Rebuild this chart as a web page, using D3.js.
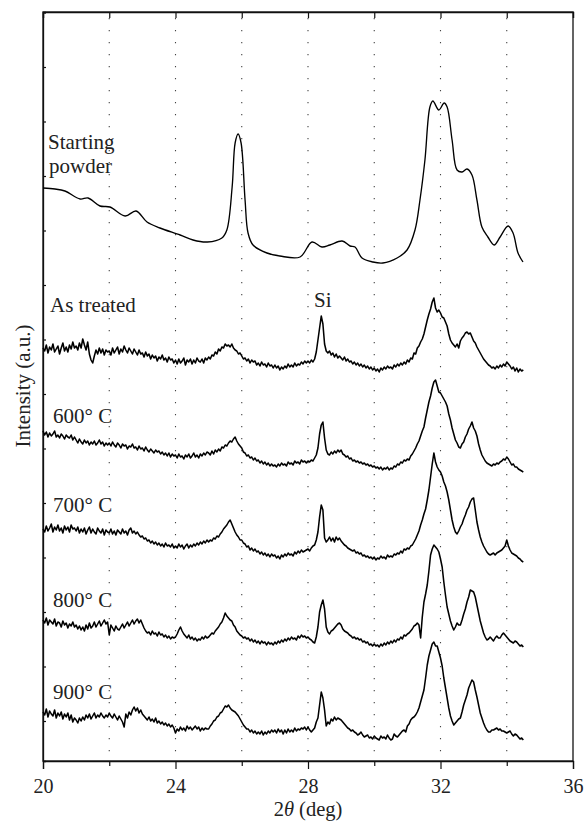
<!DOCTYPE html>
<html><head><meta charset="utf-8">
<script src="https://cdn.jsdelivr.net/npm/d3@7"></script>
<style>
html,body{margin:0;padding:0;background:#fff;}
text{font-family:Liberation Serif, serif;}
</style></head>
<body>
<svg id="chart" width="584" height="824"></svg>
<script>
// ---- data ----
const xTickLabels = [20, 24, 28, 32, 36];
const xMinorTicks = [22, 26, 30, 34];
const gridTheta = [22, 24, 26, 28, 30, 32, 34];
const seriesLabels = ["Starting powder", "As treated", "600° C", "700° C", "800° C", "900° C"];
const seriesOffsets = [498, 389, 289, 199, 114, 21];
const thetaStart = 20.0, thetaStep = 0.05;

const powderTheta = [20.0,20.36,20.66,21.12,21.36,21.72,22.02,22.48,22.81,23.14,23.53,24.14,24.53,24.96,25.40,25.55,25.71,25.80,25.89,25.98,26.10,26.19,26.34,26.76,27.15,27.76,28.12,28.42,28.66,29.03,29.27,29.42,29.63,29.96,30.26,30.69,30.99,31.23,31.38,31.53,31.68,31.77,31.95,32.11,32.20,32.35,32.50,32.65,32.80,32.95,33.10,33.25,33.43,33.62,33.80,34.04,34.19,34.34,34.49];
const powderIntensity = [75,74,72,64,65,57,56,47,52,41,35,28,23,21,25,33,76,120,129,120,63,30,18,10,7,6,21,16,18,22,17,16,5,1,0,5,13,33,63,103,156,162,153,160,156,123,93,91,94,88,63,36,26,18,26,37,30,10,1];

// noisy patterns, one value every 0.05 deg from 20.0 to 34.5
const asTreated = [
24,21,27,19,25,22,28,20,23,26,18,24,29,21,25,20,27,23,30,24,
26,22,29,24,33,27,22,30,18,12,9,16,22,18,24,19,23,17,22,20,
21,17,24,19,22,25,18,23,20,26,22,19,24,21,18,23,20,17,22,18,
19,15,20,16,18,13,17,14,16,11,15,13,17,12,14,10,15,12,13,9,
12,8,13,9,11,14,7,12,10,13,8,12,9,14,11,10,13,9,14,12,
15,13,17,16,20,18,23,21,25,24,28,26,27,25,28,24,22,21,18,19,
16,13,14,11,13,9,12,10,11,7,9,6,10,7,8,5,9,6,7,4,
7,4,6,2,5,3,6,4,8,5,7,5,9,6,8,7,10,8,11,9,
11,9,12,10,13,20,32,44,56,48,28,21,19,21,17,19,15,18,14,16,
14,12,15,11,13,10,11,8,10,7,9,6,8,5,7,4,6,3,5,2,
4,1,3,0,4,2,5,3,6,4,5,3,7,5,8,6,9,7,10,8,
12,10,14,13,19,18,24,26,30,33,38,45,52,58,63,70,74,64,60,62,
59,55,54,50,46,38,32,29,27,25,28,24,31,34,36,39,40,38,39,35,
31,29,25,22,19,16,13,11,9,7,6,4,5,3,6,4,7,5,8,6,
10,8,6,3,5,1,4,0,3,1,2];

const t600 = [
41,37,40,35,39,36,38,41,35,37,34,38,36,33,37,35,34,37,32,35,
32,29,33,30,28,32,29,31,27,30,28,31,27,29,32,28,30,26,29,27,
29,26,30,27,25,29,27,24,28,26,27,23,26,25,28,24,25,22,26,23,
24,21,25,22,20,23,21,19,22,20,21,18,20,17,19,16,19,15,18,16,
17,14,18,15,16,13,17,15,18,14,16,19,15,17,14,18,16,19,17,20,
19,17,21,18,22,20,23,21,25,24,27,26,29,31,30,33,35,31,28,26,
24,20,19,16,17,14,15,12,14,11,12,9,11,8,10,7,9,6,8,6,
7,5,8,6,9,7,8,6,10,8,9,7,11,9,10,8,12,10,11,9,
11,10,12,11,14,17,24,38,47,50,34,22,18,17,20,18,21,19,22,20,
22,18,17,15,16,13,14,11,12,10,11,9,10,8,9,7,8,6,7,5,
6,4,5,3,5,2,4,3,5,2,4,3,6,5,8,7,10,9,12,11,
13,12,16,18,21,24,28,31,36,41,45,54,62,70,76,84,90,92,86,80,
79,76,73,70,66,58,52,44,38,32,29,25,24,28,30,35,38,43,46,50,
44,41,36,28,22,17,14,11,9,8,7,6,8,7,9,8,10,11,13,12,
15,13,10,7,8,5,5,3,2,1,0];

const t700 = [
33,30,36,31,34,38,30,35,32,37,31,34,29,36,32,35,30,37,33,34,
31,35,29,33,30,34,28,32,35,29,33,30,28,34,31,29,33,27,32,30,
29,33,28,31,27,32,30,28,33,29,31,27,32,34,29,31,28,30,27,25,
26,23,24,21,22,19,21,18,20,17,19,16,18,15,19,16,17,15,18,14,
16,14,18,15,17,13,16,18,14,17,15,18,16,19,17,20,18,21,19,22,
20,22,21,24,23,26,25,28,30,33,35,37,40,42,38,34,30,27,25,22,
22,19,18,15,16,12,14,11,13,10,11,8,10,7,9,6,8,5,8,6,
7,4,6,3,7,5,8,6,9,7,8,6,10,8,11,9,12,10,11,12,
13,11,14,16,17,22,30,45,57,52,24,20,22,25,21,24,20,25,22,24,
21,19,17,16,14,13,12,11,12,9,10,8,9,6,7,5,6,4,5,3,
5,2,4,3,6,4,5,3,7,5,6,5,8,7,9,8,11,9,13,12,
14,13,16,17,20,23,27,31,37,42,48,53,62,72,85,98,109,100,95,92,
90,86,80,76,70,62,52,42,35,30,28,31,35,38,43,47,52,55,60,63,
64,52,40,32,25,20,16,13,10,8,7,8,9,7,9,10,11,12,14,16,
22,16,12,9,8,7,6,4,3,1,0];

const t800 = [
27,24,29,22,27,25,23,28,21,25,24,20,26,22,24,19,23,21,25,20,
22,18,21,17,20,16,22,18,24,19,21,25,20,23,26,21,24,27,23,25,
12,22,19,16,21,18,17,20,23,19,22,25,21,24,27,23,26,28,24,27,
23,19,16,14,15,12,16,13,14,11,15,12,13,10,12,9,11,8,10,9,
10,13,17,20,16,13,11,9,12,8,10,7,9,6,8,7,10,8,11,9,
10,12,14,13,16,18,20,23,25,29,34,31,29,27,26,22,20,16,14,12,
11,9,10,8,9,6,8,5,7,4,6,3,6,4,5,2,5,3,4,2,
5,3,6,4,7,5,8,6,9,7,10,8,9,7,11,9,12,10,11,9,
10,8,7,5,4,10,20,35,42,47,38,20,15,13,16,17,19,21,23,24,
22,18,16,15,14,12,11,9,10,8,9,7,8,5,6,4,5,2,3,1,
3,1,2,0,3,1,4,2,5,3,6,4,7,5,8,7,10,8,12,11,
13,14,16,18,21,22,24,22,9,30,45,53,62,76,92,98,102,100,98,95,
88,80,65,52,40,33,26,21,17,20,24,22,22,27,33,38,45,50,57,56,
55,50,42,34,26,20,14,10,7,8,10,8,6,9,11,9,9,12,14,12,
10,8,6,5,4,6,5,3,1,2,0];

const t900 = [
28,25,31,23,29,26,24,30,22,27,24,28,21,26,23,27,20,25,18,22,
20,17,22,19,23,20,25,22,26,21,24,27,22,25,23,27,24,22,25,23,
27,24,22,26,23,20,24,21,18,13,26,22,28,25,30,33,29,32,27,30,
26,24,22,20,23,19,21,18,22,17,19,16,18,15,17,14,16,13,15,12,
7,11,9,13,10,12,9,14,11,13,10,12,14,11,13,9,12,10,12,11,
11,14,16,19,20,23,24,27,28,31,34,33,35,32,30,29,28,26,24,21,
18,15,13,11,11,8,10,7,9,6,8,6,9,5,8,6,9,7,10,8,
10,7,11,8,10,6,10,7,11,8,10,8,12,9,11,10,12,11,13,10,
13,10,8,10,12,18,22,35,48,42,30,14,18,16,21,19,23,20,22,21,
20,18,16,14,12,11,9,10,8,7,5,6,8,5,3,4,5,2,3,1,
4,2,1,0,4,2,3,1,5,2,0,1,6,4,3,5,7,9,10,8,
14,16,20,22,23,25,28,32,38,44,50,62,75,84,90,96,98,94,94,88,
82,74,62,52,42,32,24,19,15,17,19,21,22,28,35,40,45,52,56,60,
58,50,43,35,27,22,17,13,10,8,8,10,10,11,12,10,11,9,9,8,
7,8,9,6,4,6,5,3,1,2,0];

// ---- layout ----
const FONT = "Liberation Serif";
const svg = d3.select("#chart");
const L = 43, R = 573, T = 12, B = 761;
const x = d3.scaleLinear().domain([20, 36]).range([L, R]);
const y = d3.scaleLinear().domain([0, 749]).range([B, T]);
const yTickValues = d3.range(40, 749, 54.5);

// grid
svg.append("g").selectAll("line").data(gridTheta).join("line")
  .attr("x1", d => x(d)).attr("x2", d => x(d))
  .attr("y1", T + 6).attr("y2", B)
  .attr("stroke", "#444").attr("stroke-width", 1.1)
  .attr("stroke-dasharray", "1.2,10.8");

// bottom axis (major ticks)
const bottomAxis = svg.append("g").attr("transform", `translate(0,${B})`)
  .call(d3.axisBottom(x).tickValues(xTickLabels).tickSize(8).tickPadding(10).tickFormat(d3.format("d")));
svg.append("g").attr("transform", `translate(0,${B})`)
  .call(d3.axisBottom(x).tickValues(xMinorTicks).tickSize(5).tickFormat(""))
  .call(g => g.select(".domain").remove());
// top axis inward ticks
svg.append("g").attr("transform", `translate(0,${T})`)
  .call(d3.axisBottom(x).tickValues(d3.range(20, 37, 2)).tickSize(6).tickFormat(""));
// left axis
svg.append("g").attr("transform", `translate(${L},0)`)
  .call(d3.axisRight(y).tickValues(yTickValues).tickSize(3).tickFormat(""));

svg.selectAll("g").attr("font-family", FONT);
svg.selectAll(".domain").attr("stroke", "#111").attr("stroke-width", 1.3);
svg.selectAll(".tick line").attr("stroke", "#111").attr("stroke-width", 1.2);
bottomAxis.selectAll("text").attr("font-size", 20).attr("font-family", FONT).attr("fill", "#222");

// frame
svg.append("rect").attr("x", L).attr("y", T).attr("width", R - L).attr("height", B - T)
  .attr("fill", "none").attr("stroke", "#111").attr("stroke-width", 1.3);

// curves
const powderData = powderTheta.map((t, i) => [t, seriesOffsets[0] + powderIntensity[i]]);
svg.append("path").datum(powderData)
  .attr("fill", "none").attr("stroke", "#000").attr("stroke-width", 1.35)
  .attr("d", d3.line().x(d => x(d[0])).y(d => y(d[1])).curve(d3.curveCatmullRom.alpha(0.5)));

const noisy = [asTreated, t600, t700, t800, t900];
noisy.forEach((arr, k) => {
  const off = seriesOffsets[k + 1];
  const data = arr.map((v, i) => [thetaStart + i * thetaStep, off + v]);
  svg.append("path").datum(data)
    .attr("fill", "none").attr("stroke", "#000").attr("stroke-width", 1.55)
    .attr("stroke-linejoin", "round")
    .attr("d", d3.line().x(d => x(d[0])).y(d => y(d[1])));
});

// labels
const lab = svg.append("g").attr("font-size", 21).attr("fill", "#222").attr("font-family", FONT);
lab.append("text").attr("x", 48).attr("y", 149).text("Starting");
lab.append("text").attr("x", 49).attr("y", 173).text("powder");
lab.append("text").attr("x", 50).attr("y", 312).text(seriesLabels[1]);
[423, 512, 607, 699].forEach((yy, i) => {
  lab.append("text").attr("x", 53).attr("y", yy).text(seriesLabels[i + 2]);
});
lab.append("text").attr("x", 314).attr("y", 307).text("Si");

// axis titles
svg.append("text").attr("transform", "translate(30,386) rotate(-90)")
  .attr("text-anchor", "middle").attr("font-size", 21).attr("fill", "#222").attr("font-family", FONT)
  .text("Intensity (a.u.)");
const xt = svg.append("text").attr("x", 308).attr("y", 816).attr("text-anchor", "middle")
  .attr("font-size", 20.5).attr("fill", "#222").attr("font-family", FONT);
xt.append("tspan").text("2");
xt.append("tspan").attr("font-style", "italic").text("θ");
xt.append("tspan").text(" (deg)");
</script>
</body></html>
